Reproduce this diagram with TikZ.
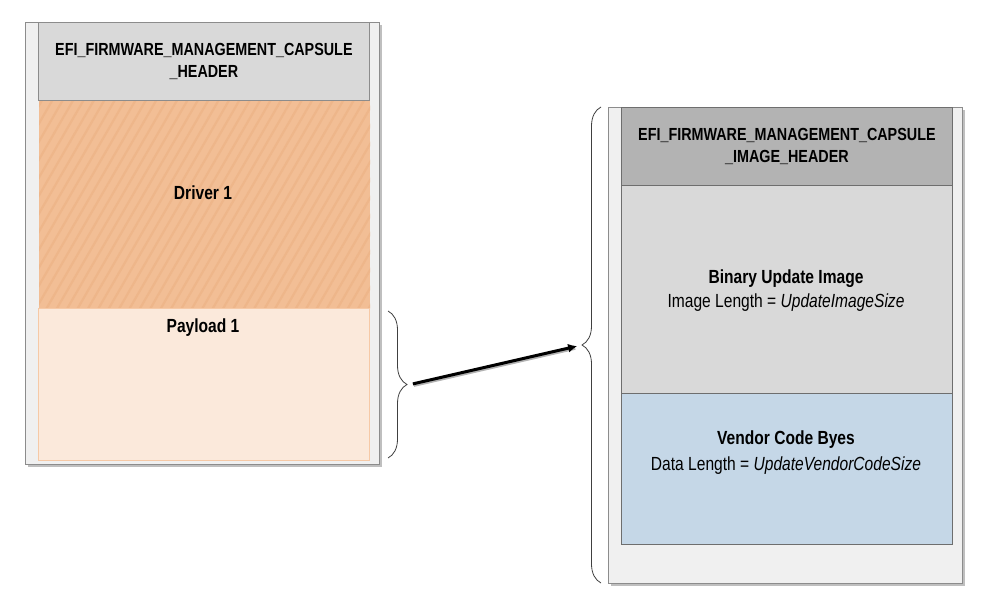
\documentclass[tikz,border=0pt]{standalone}
\usepackage{fontspec}
\setmainfont{Liberation Sans}[FakeStretch=0.82]
\usetikzlibrary{decorations.pathreplacing,patterns.meta,shadows,arrows.meta}
\definecolor{outerfill}{HTML}{F0F0F0}
\definecolor{outerline}{HTML}{8C8C8C}
\definecolor{hdrlight}{HTML}{D9D9D9}
\definecolor{hdrdark}{HTML}{B3B3B3}
\definecolor{drvfill}{HTML}{F2BE95}
\definecolor{drvline}{HTML}{EEB68A}
\definecolor{payfill}{HTML}{FBE9DB}
\definecolor{payline}{HTML}{F6C9A6}
\definecolor{venfill}{HTML}{C5D7E7}
\definecolor{boxline}{HTML}{6E6E6E}
\definecolor{bracecol}{HTML}{404040}
\begin{document}
\begin{tikzpicture}[x=1pt,y=-1pt,
  outerbox/.style={draw=outerline, fill=outerfill, line width=1pt, inner sep=0pt, anchor=north west,
    drop shadow={shadow xshift=2pt, shadow yshift=-2pt, fill=black!25, opacity=1}},
  cell/.style={inner sep=0pt, anchor=north west, line width=0.8pt},
  hdrtext/.style={font=\fontsize{17.5}{22.5}\selectfont\bfseries, align=center},
  bodytext/.style={font=\fontsize{19}{24}\selectfont, align=center},
  bracestyle/.style={draw=bracecol, line width=0.8pt, decorate},
]
\useasboundingbox (0,0) rectangle (994,605);

% ---------- left stack ----------
\node[outerbox, minimum width=354pt, minimum height=442pt] (louter) at (25,22) {};
\node[cell, draw=outerline, fill=hdrlight, minimum width=331pt, minimum height=78pt] (lhdr) at (38,22) {};
\node[hdrtext] (lhdrtxt) at (lhdr.center) {EFI\_FIRMWARE\_MANAGEMENT\_CAPSULE\\\_HEADER};
\node[cell, preaction={fill=drvfill}, pattern={Lines[angle=60, distance=9pt, line width=2.2pt]}, pattern color=drvline,
  minimum width=331pt, minimum height=208pt] (drv) at (38,100) {};
\node[cell, draw=payline, fill=payfill, minimum width=331pt, minimum height=152pt] (pay) at (38,308) {};
\node[bodytext, font=\fontsize{19}{24}\selectfont\bfseries] (drvtxt) at (203,193) {Driver 1};
\node[bodytext, font=\fontsize{19}{24}\selectfont\bfseries] (paytxt) at (203,328) {Payload 1};

% ---------- right stack ----------
\node[outerbox, minimum width=354pt, minimum height=476pt] (router) at (608,107) {};
\node[cell, draw=boxline, fill=hdrdark, minimum width=331pt, minimum height=78pt] (rhdr) at (621,107) {};
\node[hdrtext] (rhdrtxt) at (rhdr.center) {EFI\_FIRMWARE\_MANAGEMENT\_CAPSULE\\\_IMAGE\_HEADER};
\node[cell, draw=boxline, fill=hdrlight, minimum width=331pt, minimum height=208pt] (bin) at (621,185) {};
\node[cell, draw=boxline, fill=venfill, minimum width=331pt, minimum height=151pt] (ven) at (621,393) {};
\node[bodytext] (bintxt) at (786,291) {\textbf{Binary Update Image}\\Image Length = \textit{UpdateImageSize}};
\node[bodytext, font=\fontsize{19}{26}\selectfont] (ventxt) at (786,453) {\textbf{Vendor Code Byes}\\Data Length = \textit{UpdateVendorCodeSize}};

% ---------- braces ----------
\draw[bracestyle, decoration={brace, amplitude=19pt, aspect=0.5}] (388,311) -- (388,458);
\draw[bracestyle, decoration={brace, amplitude=19pt, aspect=0.5}] (601,583) -- (601,107);
\coordinate (ltip) at (408,385);
\coordinate (rtip) at (582,345);

% ---------- arrow ----------
\draw[black!30, line width=3pt, shorten <=5pt, shorten >=8pt, transform canvas={xshift=1pt, yshift=-1.5pt}] (ltip) -- (rtip);
\draw[black, line width=3pt, shorten <=5pt, shorten >=5pt, -{Latex[length=9pt, width=9pt]}] (ltip) -- (rtip);
\end{tikzpicture}
\end{document}
